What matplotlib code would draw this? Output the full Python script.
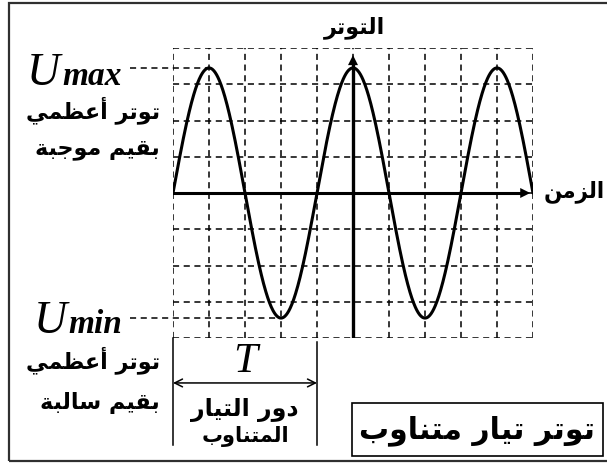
import numpy as np
import matplotlib
matplotlib.use("Agg")
import matplotlib.pyplot as plt
from matplotlib.patches import Rectangle, FancyArrowPatch

# ---------------- data ----------------
amplitude = 3.45          # Umax in grid divisions
period = 4.0              # T in grid divisions
t_min, t_max = -5.0, 5.0  # time span shown (y-axis at t = 0)
y_min, y_max = -4.0, 4.0
x_ticks = list(range(-5, 6))
y_ticks = list(range(-4, 5))

title_y = "التوتر"
title_x = "الزمن"
max_lines = ["توتر أعظمي", "بقيم موجبة"]
min_lines = ["توتر أعظمي", "بقيم سالبة"]
period_lines = ["دور التيار", "المتناوب"]
box_text = "توتر تيار متناوب"

# ------------- simple Arabic shaping -------------
FORMS = {  # isolated, final, initial, medial
    'ا': ('\uFE8D', '\uFE8E', None, None),
    'أ': ('\uFE83', '\uFE84', None, None),
    'ب': ('\uFE8F', '\uFE90', '\uFE91', '\uFE92'),
    'ة': ('\uFE93', '\uFE94', None, None),
    'ت': ('\uFE95', '\uFE96', '\uFE97', '\uFE98'),
    'ج': ('\uFE9D', '\uFE9E', '\uFE9F', '\uFEA0'),
    'د': ('\uFEA9', '\uFEAA', None, None),
    'ر': ('\uFEAD', '\uFEAE', None, None),
    'ز': ('\uFEAF', '\uFEB0', None, None),
    'س': ('\uFEB1', '\uFEB2', '\uFEB3', '\uFEB4'),
    'ظ': ('\uFEC5', '\uFEC6', '\uFEC7', '\uFEC8'),
    'ع': ('\uFEC9', '\uFECA', '\uFECB', '\uFECC'),
    'ق': ('\uFED5', '\uFED6', '\uFED7', '\uFED8'),
    'ل': ('\uFEDD', '\uFEDE', '\uFEDF', '\uFEE0'),
    'م': ('\uFEE1', '\uFEE2', '\uFEE3', '\uFEE4'),
    'ن': ('\uFEE5', '\uFEE6', '\uFEE7', '\uFEE8'),
    'و': ('\uFEED', '\uFEEE', None, None),
    'ي': ('\uFEF1', '\uFEF2', '\uFEF3', '\uFEF4'),
}


def shape(s):
    out = []
    for i, c in enumerate(s):
        if c not in FORMS:
            out.append(c)
            continue
        prev = s[i - 1] if i > 0 else ''
        nxt = s[i + 1] if i + 1 < len(s) else ''
        jp = prev in FORMS and FORMS[prev][2] is not None
        jn = FORMS[c][2] is not None and nxt in FORMS
        f = FORMS[c]
        if jp and jn:
            out.append(f[3])
        elif jp:
            out.append(f[1])
        elif jn:
            out.append(f[2])
        else:
            out.append(f[0])
    return ''.join(reversed(out))


AR = dict(family='DejaVu Sans', fontweight='bold', color='black')
SERIF = dict(family='Liberation Serif', style='italic', color='black')

# ---------------- figure ----------------
W, H = 607, 466
fig = plt.figure(figsize=(W / 100, H / 100), dpi=100)
fig.patch.set_facecolor('white')
ax = fig.add_axes([173 / W, 1 - 338 / H, 360 / W, 290 / H])
ax.set_xlim(t_min, t_max)
ax.set_ylim(y_min, y_max)
ax.axis('off')

# outer frame (right side falls outside the image)
fig.patches.append(Rectangle((9 / W, 1 - 461 / H), 1.2, (461 - 3) / H,
                             transform=fig.transFigure, fill=False,
                             edgecolor='#303030', linewidth=1.6))

# dashed grid
grid_kw = dict(color='black', linewidth=1.1, linestyle=(0, (4, 3)), zorder=1)
for xv in x_ticks:
    ax.plot([xv, xv], [y_min, y_max], **grid_kw)
for yv in y_ticks:
    ax.plot([t_min, t_max], [yv, yv], **grid_kw)

# axes with arrows
ax.plot([t_min, t_max - 0.25], [0, 0], color='black', linewidth=2.2, zorder=3)
ax.add_patch(FancyArrowPatch((t_max - 0.5, 0), (t_max, 0), arrowstyle='-|>',
                             mutation_scale=18, color='black', linewidth=0,
                             zorder=4, clip_on=False))
ax.plot([0, 0], [y_min, 3.6], color='black', linewidth=2.4, zorder=3)
ax.add_patch(FancyArrowPatch((0, 3.4), (0, 3.88), arrowstyle='-|>',
                             mutation_scale=18, color='black', linewidth=0,
                             zorder=4, clip_on=False))

# sinusoidal voltage
t = np.linspace(t_min, t_max, 800)
u = amplitude * np.cos(2 * np.pi * t / period)
ax.plot(t, u, color='black', linewidth=2.2, zorder=5, solid_capstyle='round')

# Umax / Umin guide lines
t_peak = t_min + period / 4
t_trough = t_min + 3 * period / 4
ax.plot([-6.2, t_peak], [amplitude, amplitude], clip_on=False, **grid_kw)
ax.plot([-6.2, t_trough], [-amplitude, -amplitude], clip_on=False, **grid_kw)

# axis titles
ax.text(0.05, 4.55, shape(title_y), ha='center', va='center', fontsize=16, **AR)
ax.text(6.15, 0.05, shape(title_x), ha='center', va='center', fontsize=15.5,
        **AR)

# Umax labels
ax.text(-6.42, 2.98, 'max', ha='right', va='baseline', fontsize=24,
        fontweight='bold', **SERIF)
ax.text(-8.15, 2.98, 'U', ha='right', va='baseline', fontsize=33, **SERIF)
for i, s in enumerate(max_lines):
    ax.text(-5.36, 2.28 - 1.1 * i, shape(s), ha='right', va='center',
            fontsize=16, **AR)

# Umin labels
ax.text(-6.42, -3.86, 'min', ha='right', va='baseline', fontsize=24,
        fontweight='bold', **SERIF)
ax.text(-7.95, -3.86, 'U', ha='right', va='baseline', fontsize=33, **SERIF)
for i, s in enumerate(min_lines):
    ax.text(-5.36, -4.61 - 1.18 * i, shape(s), ha='right', va='center',
            fontsize=16, **AR)

# period bracket
ax.plot([t_min, t_min], [y_min, -6.95], color='black', linewidth=1.1,
        clip_on=False)
ax.plot([t_min + period, t_min + period], [y_min - 0.1, -6.95], color='black',
        linewidth=1.1, clip_on=False)
ax.add_patch(FancyArrowPatch((t_min, -5.24), (t_min + period, -5.24),
                             arrowstyle='<->', mutation_scale=14,
                             color='black', linewidth=1.1, clip_on=False,
                             shrinkA=0, shrinkB=0))
ax.text(t_min + period / 2, -4.95, 'T', ha='center', va='baseline',
        fontsize=31, **SERIF)
ax.text(t_min + period / 2, -5.99, shape(period_lines[0]), ha='center',
        va='center', fontsize=17, **AR)
ax.text(t_min + period / 2, -6.73, shape(period_lines[1]), ha='center',
        va='center', fontsize=15, **AR)

# caption box
ax.add_patch(Rectangle((-0.03, -7.26), 6.97, 1.46, fill=False,
                       edgecolor='black', linewidth=1.2, clip_on=False))
ax.text(3.45, -6.55, shape(box_text), ha='center', va='center', fontsize=21.5,
        **AR)

fig.savefig('out.png', dpi=100, facecolor='white')
